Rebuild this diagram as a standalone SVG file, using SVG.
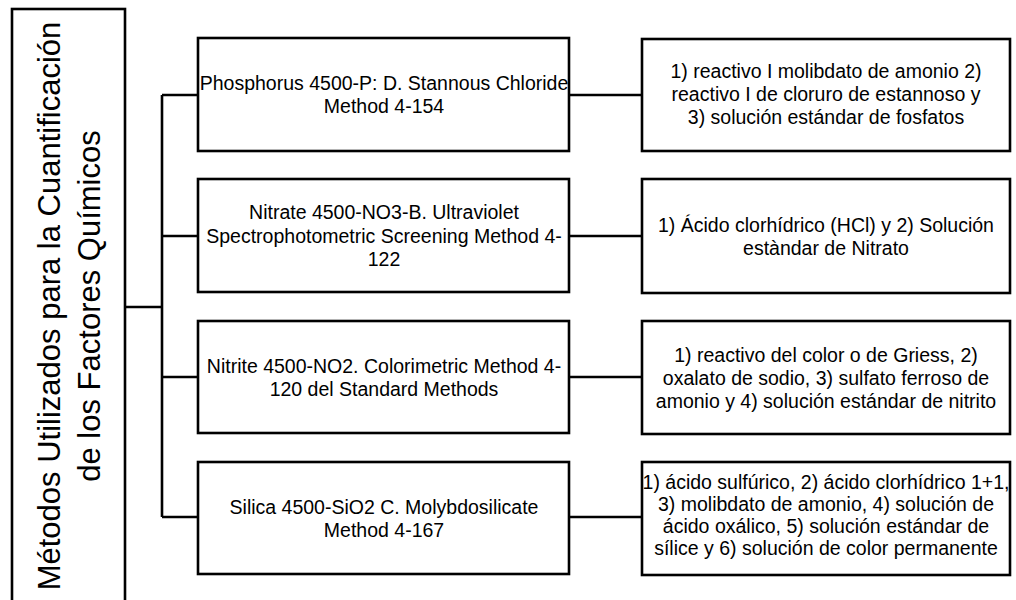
<svg xmlns="http://www.w3.org/2000/svg" width="1016" height="600" viewBox="0 0 1016 600">
<style>
.box{fill:#fff;stroke:#000;stroke-width:2.6}
.con{fill:none;stroke:#000;stroke-width:2.6}
.t{font-family:"Liberation Sans",Arial,sans-serif;font-size:19.5px;fill:#000;text-anchor:middle}
.title{font-family:"Liberation Sans",Arial,sans-serif;font-size:31px;fill:#000;text-anchor:middle}
</style>
<rect width="1016" height="600" fill="#fff"/>
<g id="connectors">
<path class="con" d="M125,307H162M162,95V517M162,95H198M162,236H198M162,377H198M162,517H198"/>
<path class="con" d="M569,95H642M569,236H642M569,377H642M569,517H642"/>
</g>
<g id="root">
<rect class="box" x="12" y="9" width="113" height="620"/>
<text class="title" transform="translate(60,306) rotate(-90)">Métodos Utilizados para la Cuantificación</text>
<text class="title" transform="translate(100,306) rotate(-90)">de los Factores Químicos</text>
</g>
<g id="m1">
<rect class="box" x="198" y="38" width="371" height="113"/>
<text class="t" x="384" y="90">Phosphorus 4500-P: D. Stannous Chloride</text>
<text class="t" x="384" y="113">Method 4-154</text>
</g>
<g id="m2">
<rect class="box" x="198" y="179" width="371" height="113"/>
<text class="t" x="384" y="219">Nitrate 4500-NO3-B. Ultraviolet</text>
<text class="t" x="384" y="243">Spectrophotometric Screening Method 4-</text>
<text class="t" x="384" y="266">122</text>
</g>
<g id="m3">
<rect class="box" x="198" y="321" width="371" height="112"/>
<text class="t" x="384" y="373">Nitrite 4500-NO2. Colorimetric Method 4-</text>
<text class="t" x="384" y="396">120 del Standard Methods</text>
</g>
<g id="m4">
<rect class="box" x="198" y="462" width="371" height="112"/>
<text class="t" x="384" y="514">Silica 4500-SiO2 C. Molybdosilicate</text>
<text class="t" x="384" y="537">Method 4-167</text>
</g>
<g id="r1">
<rect class="box" x="642" y="39" width="368" height="112"/>
<text class="t" x="826" y="78">1) reactivo I molibdato de amonio 2)</text>
<text class="t" x="826" y="101">reactivo I de cloruro de estannoso  y</text>
<text class="t" x="826" y="124">3) solución estándar de fosfatos</text>
</g>
<g id="r2">
<rect class="box" x="642" y="179" width="368" height="114"/>
<text class="t" x="826" y="232">1) Ácido clorhídrico (HCl) y 2) Solución</text>
<text class="t" x="826" y="255">estàndar de Nitrato</text>
</g>
<g id="r3">
<rect class="box" x="642" y="321" width="368" height="113"/>
<text class="t" x="826" y="362">1) reactivo del color o de Griess, 2)</text>
<text class="t" x="826" y="385">oxalato de sodio, 3) sulfato ferroso de</text>
<text class="t" x="826" y="408">amonio y 4) solución estándar de nitrito</text>
</g>
<g id="r4">
<rect class="box" x="642" y="462" width="368" height="113"/>
<text class="t" x="826" y="489">1) ácido sulfúrico, 2) ácido clorhídrico 1+1,</text>
<text class="t" x="826" y="511">3) molibdato de amonio, 4) solución de</text>
<text class="t" x="826" y="533">ácido oxálico, 5) solución estándar de</text>
<text class="t" x="826" y="555">sílice y 6) solución de color permanente</text>
</g>
</svg>
